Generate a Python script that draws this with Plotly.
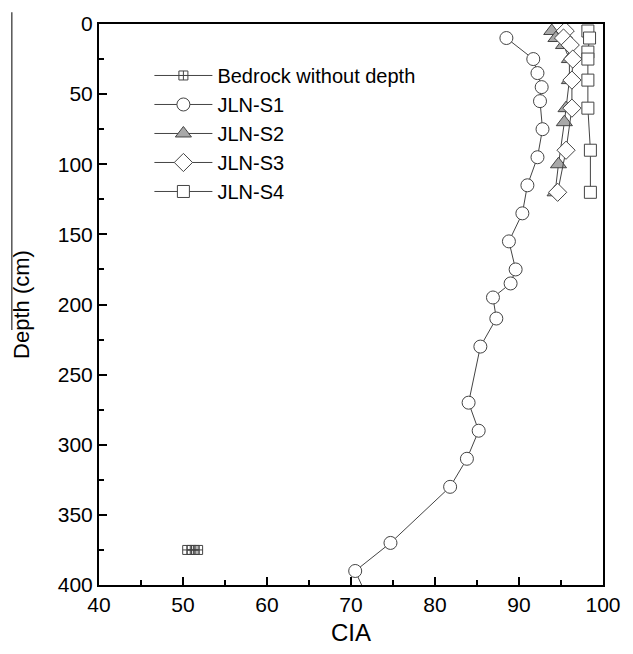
import plotly.graph_objects as go

# Data
bedrock_cia = [50.5, 51.0, 51.4, 51.8]
bedrock_depth = [375, 375, 375, 375]

s1_cia = [88.5, 91.7, 92.2, 92.7, 92.5, 92.8, 92.2, 91.0, 90.4, 88.8, 89.6, 89.0, 86.9, 87.3,
          85.4, 84.0, 85.2, 83.8, 81.8, 74.7, 70.5, 72.8]
s1_depth = [10, 25, 35, 45, 55, 75, 95, 115, 135, 155, 175, 185, 195, 210,
            230, 270, 290, 310, 330, 370, 390, 420]

s2_cia = [93.9, 94.4, 95.3, 96.0, 96.0, 95.6, 95.4, 94.7, 94.3]
s2_depth = [5, 10, 15, 25, 40, 60, 70, 100, 120]

s3_cia = [95.5, 95.3, 96.1, 96.4, 96.3, 96.3, 95.6, 94.6]
s3_depth = [5, 10, 15, 25, 40, 60, 90, 120]

s4_cia = [98.2, 98.4, 98.2, 98.2, 98.2, 98.2, 98.5, 98.5]
s4_depth = [5, 10, 20, 25, 40, 60, 90, 120]

x_ticks = [40, 50, 60, 70, 80, 90, 100]
y_ticks = [0, 50, 100, 150, 200, 250, 300, 350, 400]

LC = "#444444"
FONT = "Liberation Sans, Arial, sans-serif"

fig = go.Figure()
fig.add_trace(go.Scatter(x=bedrock_cia, y=bedrock_depth, mode="lines+markers",
                         name="Bedrock without depth",
                         line=dict(color=LC, width=1),
                         marker=dict(symbol="square-cross-open", size=9, color=LC, line=dict(width=1))))
fig.add_trace(go.Scatter(x=s1_cia, y=s1_depth, mode="lines+markers", name="JLN-S1",
                         line=dict(color=LC, width=1),
                         marker=dict(symbol="circle", size=13, color="white", line=dict(color=LC, width=1))))
fig.add_trace(go.Scatter(x=s2_cia, y=s2_depth, mode="lines+markers", name="JLN-S2",
                         line=dict(color=LC, width=1),
                         marker=dict(symbol="triangle-up", size=14, color="#a8a8a8", line=dict(color=LC, width=1))))
fig.add_trace(go.Scatter(x=s3_cia, y=s3_depth, mode="lines+markers", name="JLN-S3",
                         line=dict(color=LC, width=1),
                         marker=dict(symbol="diamond", size=14, color="white", line=dict(color=LC, width=1))))
fig.add_trace(go.Scatter(x=s4_cia, y=s4_depth, mode="lines+markers", name="JLN-S4",
                         line=dict(color=LC, width=1),
                         marker=dict(symbol="square", size=12, color="white", line=dict(color=LC, width=1))))

axis_common = dict(showgrid=False, zeroline=False, showline=True, linecolor="black", linewidth=2,
                   mirror=True, ticks="inside", ticklen=8, tickwidth=2, tickcolor="black",
                   tickfont=dict(family=FONT, size=21, color="black"))

fig.update_xaxes(range=[40, 100], tickvals=x_ticks, ticktext=[str(v) for v in x_ticks],
                 minor=dict(ticks="inside", dtick=5, tick0=45, ticklen=5, tickwidth=2, tickcolor="black"),
                 title=dict(text="CIA", font=dict(family=FONT, size=24, color="black"), standoff=9),
                 **axis_common)
fig.update_yaxes(range=[400, 0], tickvals=y_ticks, ticktext=[str(v) for v in y_ticks],
                 minor=dict(ticks="inside", dtick=25, tick0=25, ticklen=5, tickwidth=2, tickcolor="black"),
                 title=dict(text="Depth (cm)", font=dict(family=FONT, size=22, color="black"), standoff=22),
                 **axis_common)

fig.add_shape(type="line", xref="paper", yref="paper", x0=-0.173, x1=-0.173,
              y0=1.0 + 12 / 570, y1=1 - (328 - 17) / 570,
              line=dict(color="#555555", width=1.5))

fig.update_layout(
    width=633, height=654,
    margin=dict(l=99, r=30, t=17, b=67),
    paper_bgcolor="white", plot_bgcolor="white",
    font=dict(family=FONT, color="black"),
    showlegend=True,
    legend=dict(x=0.10, y=0.943, xanchor="left", yanchor="top",
                bgcolor="rgba(0,0,0,0)", font=dict(family=FONT, size=20, color="black"),
                tracegroupgap=0, itemwidth=58),
)

fig.write_html("out.html")
